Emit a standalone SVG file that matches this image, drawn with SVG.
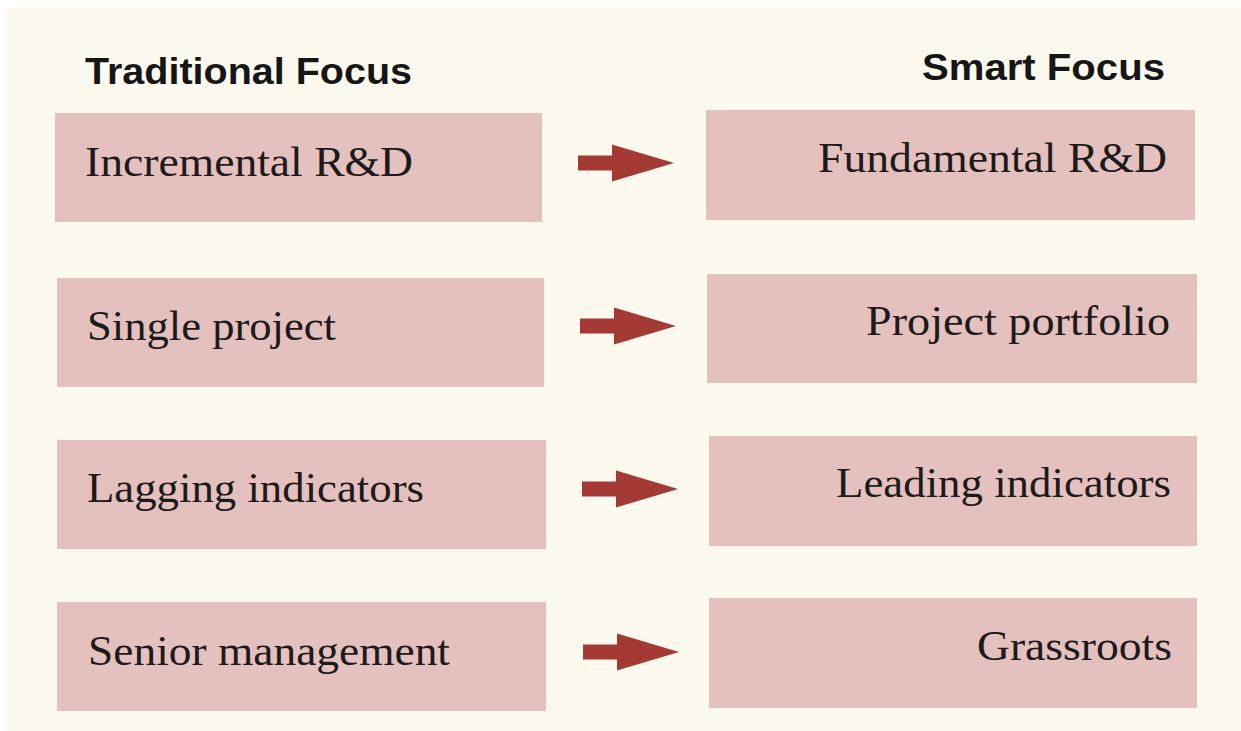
<svg xmlns="http://www.w3.org/2000/svg" xmlns:xlink="http://www.w3.org/1999/xlink" width="1241" height="731" viewBox="0 0 1241 731">
  <style>
    .box { fill: #e4c1bf; }
    .hdr { font-family: "Liberation Sans", Arial, sans-serif; font-weight: bold; font-size: 36px; fill: #161616; }
    .lbl { font-family: "Liberation Serif", "Times New Roman", serif; font-size: 42px; fill: #1c1a1a; }
    .end { text-anchor: end; }
    .arrow { fill: #a53a35; }
  </style>
  <defs>
    <!-- block arrow: shaft then triangular head, origin at the shaft's left centre -->
    <path id="blockArrow" d="M0,-7.5 H34 V-18.5 L96,0 L34,18.5 V7.5 H0 Z"/>
  </defs>

  <!-- page -->
  <rect width="1241" height="731" fill="#ffffff"/>
  <rect x="4" y="8" width="1237" height="723" fill="#fcf9ef"/>

  <!-- column headings -->
  <text class="hdr" x="85" y="84" textLength="327" lengthAdjust="spacingAndGlyphs">Traditional Focus</text>
  <text class="hdr" x="922" y="80" textLength="243" lengthAdjust="spacingAndGlyphs">Smart Focus</text>

  <!-- traditional column -->
  <g id="node-incremental">
    <rect class="box" x="55" y="113" width="487" height="109"/>
    <text class="lbl" x="85" y="176" textLength="328" lengthAdjust="spacingAndGlyphs">Incremental R&amp;D</text>
  </g>
  <g id="node-single">
    <rect class="box" x="57" y="278" width="487" height="109"/>
    <text class="lbl" x="87" y="340" textLength="249" lengthAdjust="spacingAndGlyphs">Single project</text>
  </g>
  <g id="node-lagging">
    <rect class="box" x="57" y="440" width="489" height="109"/>
    <text class="lbl" x="87" y="502" textLength="337" lengthAdjust="spacingAndGlyphs">Lagging indicators</text>
  </g>
  <g id="node-senior">
    <rect class="box" x="57" y="602" width="489" height="109"/>
    <text class="lbl" x="88" y="665" textLength="362" lengthAdjust="spacingAndGlyphs">Senior management</text>
  </g>

  <!-- smart column -->
  <g id="node-fundamental">
    <rect class="box" x="706" y="110" width="489" height="110"/>
    <text class="lbl" x="818" y="172" textLength="349" lengthAdjust="spacingAndGlyphs">Fundamental R&amp;D</text>
  </g>
  <g id="node-portfolio">
    <rect class="box" x="707" y="274" width="490" height="109"/>
    <text class="lbl" x="866" y="335" textLength="304" lengthAdjust="spacingAndGlyphs">Project portfolio</text>
  </g>
  <g id="node-leading">
    <rect class="box" x="709" y="436" width="488" height="110"/>
    <text class="lbl" x="836" y="497" textLength="335" lengthAdjust="spacingAndGlyphs">Leading indicators</text>
  </g>
  <g id="node-grassroots">
    <rect class="box" x="709" y="598" width="488" height="110"/>
    <text class="lbl" x="977" y="660" textLength="195" lengthAdjust="spacingAndGlyphs">Grassroots</text>
  </g>

  <!-- connectors -->
  <g id="connectors" class="arrow">
    <use xlink:href="#blockArrow" href="#blockArrow" transform="translate(578,163)"/>
    <use xlink:href="#blockArrow" href="#blockArrow" transform="translate(580,326)"/>
    <use xlink:href="#blockArrow" href="#blockArrow" transform="translate(582,489)"/>
    <use xlink:href="#blockArrow" href="#blockArrow" transform="translate(583,652)"/>
  </g>
</svg>
